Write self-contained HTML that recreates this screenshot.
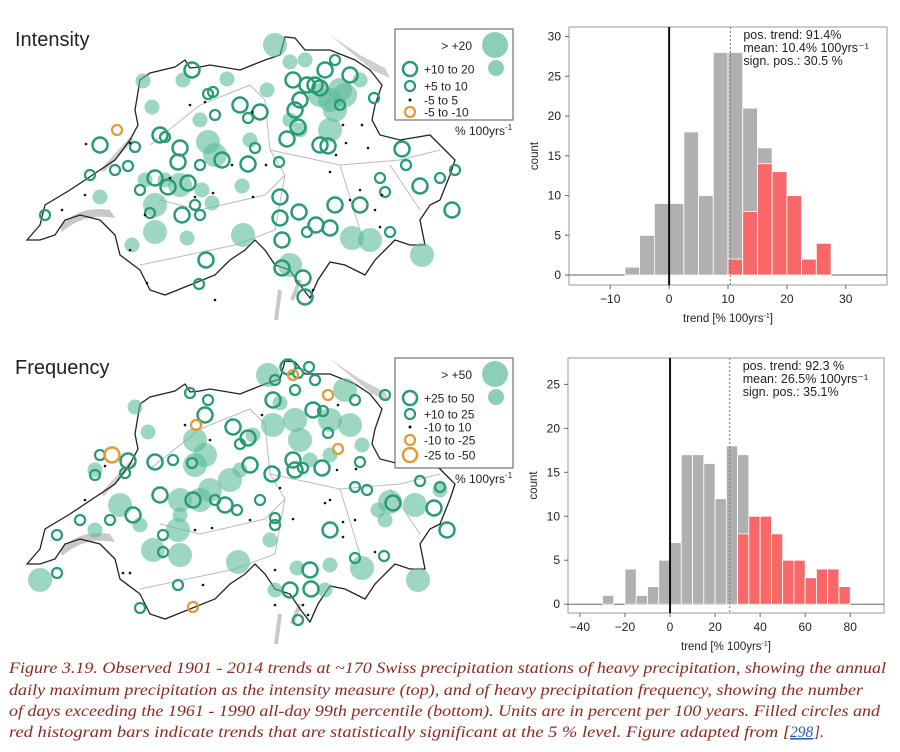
<!DOCTYPE html>
<html><head><meta charset="utf-8"><style>
body{margin:0;background:#fff;width:900px;height:752px;overflow:hidden}
svg{display:block}
text{font-family:"Liberation Sans",Arial,sans-serif;fill:#222}
.cap{font-family:"Liberation Serif",serif;font-style:italic;fill:#8a2a20;font-size:15.5px}
</style></head><body>
<svg id="fig" width="900" height="752" viewBox="0 0 900 752" xmlns="http://www.w3.org/2000/svg">
<g id="maps"></g>
<g id="hist1"></g>
<g id="hist2"></g>
<g>
<text class="cap" x="9" y="673" textLength="877" lengthAdjust="spacingAndGlyphs">Figure 3.19. Observed 1901 - 2014 trends at ~170 Swiss precipitation stations of heavy precipitation, showing the annual</text>
<text class="cap" x="9" y="695" textLength="854" lengthAdjust="spacingAndGlyphs">daily maximum precipitation as the intensity measure (top), and of heavy precipitation frequency, showing the number</text>
<text class="cap" x="9" y="716" textLength="871" lengthAdjust="spacingAndGlyphs">of days exceeding the 1961 - 1990 all-day 99th percentile (bottom). Units are in percent per 100 years. Filled circles and</text>
<text class="cap" x="9" y="737" textLength="781" lengthAdjust="spacingAndGlyphs">red histogram bars indicate trends that are statistically significant at the 5 % level. Figure adapted from [</text>
<text class="cap" x="790" y="737" style="fill:#2a5db0;text-decoration:underline">298</text>
<text class="cap" x="814" y="737">].</text>
</g>
</svg>
<script>
// ---------- histogram data ----------
const intBinStart = [-7.5,-5,-2.5,0,2.5,5,7.5,10,12.5,15,17.5,20,22.5,25];
const intTotal    = [1,5,9,9,18,10,28,28,21,16,13,10,2,4];
const intSig      = [0,0,0,0,0,0,0,2,8,14,13,10,2,4];
const intXTicks = [-10,0,10,20,30];
const intYTicks = [0,5,10,15,20,25,30];
const intMean = 10.4;
const intStats = ["pos. trend: 91.4%","mean: 10.4% 100yrs\u207B\u00B9","sign. pos.: 30.5 %"];

const freqBinStart = [-30,-25,-20,-15,-10,-5,0,5,10,15,20,25,30,35,40,45,50,55,60,65,70,75];
const freqTotal    = [1,0,4,1,2,5,7,17,17,16,12,18,17,10,10,8,5,5,3,4,4,2];
const freqSig      = [0,0,0,0,0,0,0,0,0,0,0,0,8,10,10,8,5,5,3,4,4,2];
const freqXTicks = [-40,-20,0,20,40,60,80];
const freqYTicks = [0,5,10,15,20,25];
const freqMean = 26.5;
const freqStats = ["pos. trend: 92.3 %","mean: 26.5% 100yrs\u207B\u00B9","sign. pos.: 35.1%"];

// ---------- map station data [x, y, class] ----------
// classes: B big filled, S small filled, O open large, o open small, d dot, r orange small, R orange large
const intStations = [
[275,45,'B'],[155,232,'B'],[243,235,'B'],[352,238,'B'],[370,240,'B'],[422,255,'B'],[290,265,'B'],[340,90,'B'],[330,100,'B'],[208,142,'B'],[215,155,'B'],[155,205,'B'],[180,185,'B'],[335,110,'B'],[320,95,'B'],[345,95,'B'],[330,130,'B'],
[143,81,'S'],[152,107,'S'],[183,80,'S'],[227,79,'S'],[267,90,'S'],[300,130,'S'],[145,180,'S'],[165,180,'S'],[202,190,'S'],[242,186,'S'],[100,197,'S'],[212,203,'S'],[132,245,'S'],[187,238,'S'],[290,120,'S'],[360,80,'S'],[290,62,'S'],[305,60,'S'],[200,120,'S'],[250,140,'S'],
[192,70,'O'],[240,105,'O'],[260,112,'O'],[160,135,'O'],[100,145,'O'],[180,148,'O'],[178,162,'O'],[155,178,'O'],[222,160,'O'],[248,164,'O'],[188,183,'O'],[298,127,'O'],[287,139,'O'],[320,145,'O'],[328,146,'O'],[300,100,'O'],[315,85,'O'],[325,70,'O'],[350,75,'O'],[320,88,'O'],[293,80,'O'],[307,85,'O'],[295,110,'O'],[168,187,'O'],[182,215,'O'],[206,260,'O'],[280,218,'O'],[282,240,'O'],[299,212,'O'],[335,205,'O'],[360,205,'O'],[402,149,'O'],[420,186,'O'],[316,225,'O'],[330,228,'O'],[282,268,'O'],[303,278,'O'],[305,297,'O'],[452,210,'O'],[280,197,'O'],
[208,94,'o'],[213,92,'o'],[215,115,'o'],[248,118,'o'],[135,147,'o'],[165,137,'o'],[128,166,'o'],[90,175,'o'],[200,165,'o'],[279,162,'o'],[255,148,'o'],[374,98,'o'],[200,215,'o'],[195,205,'o'],[140,190,'o'],[45,215,'o'],[115,170,'o'],[150,213,'o'],[199,284,'o'],[380,178,'o'],[440,178,'o'],[455,170,'o'],[406,165,'o'],[385,192,'o'],[307,232,'o'],[390,232,'o'],[335,60,'o'],[340,105,'o'],
[117,130,'r'],
[190,105,'d'],[205,102,'d'],[86,144,'d'],[130,143,'d'],[252,112,'d'],[85,195,'d'],[62,210,'d'],[145,215,'d'],[195,197,'d'],[170,178,'d'],[213,193,'d'],[232,165,'d'],[266,165,'d'],[253,197,'d'],[330,172,'d'],[336,155,'d'],[343,125,'d'],[350,200,'d'],[360,190,'d'],[382,195,'d'],[375,210,'d'],[368,148,'d'],[362,125,'d'],[346,143,'d'],[147,283,'d'],[130,250,'d'],[313,290,'d'],[380,227,'d'],[215,300,'d']
];
const freqStations = [
[268,375,'B'],[40,580,'B'],[153,550,'B'],[180,555,'B'],[178,530,'B'],[238,562,'B'],[362,568,'B'],[418,580,'B'],[390,502,'B'],[415,505,'B'],[345,390,'B'],[350,425,'B'],[330,420,'B'],[295,420,'B'],[273,425,'B'],[300,440,'B'],[210,490,'B'],[230,480,'B'],[195,465,'B'],[200,500,'B'],[120,505,'B'],[195,440,'B'],[205,455,'B'],[180,500,'B'],
[135,407,'S'],[148,432,'S'],[253,435,'S'],[180,515,'S'],[140,525,'S'],[270,540,'S'],[330,565,'S'],[325,590,'S'],[95,530,'S'],[310,460,'S'],[440,490,'S'],[275,590,'S'],[297,568,'S'],[378,510,'S'],[95,470,'S'],[330,455,'S'],[362,445,'S'],[385,520,'S'],[280,403,'S'],[240,470,'S'],
[205,415,'O'],[233,427,'O'],[248,438,'O'],[155,462,'O'],[128,461,'O'],[160,495,'O'],[133,515,'O'],[193,500,'O'],[225,505,'O'],[250,465,'O'],[272,474,'O'],[293,460,'O'],[288,367,'O'],[273,400,'O'],[313,410,'O'],[295,470,'O'],[330,530,'O'],[311,589,'O'],[310,570,'O'],[290,590,'O'],[393,503,'O'],[447,530,'O'],[434,508,'O'],[322,468,'O'],
[190,393,'o'],[208,400,'o'],[240,444,'o'],[173,460,'o'],[125,473,'o'],[100,455,'o'],[95,475,'o'],[80,520,'o'],[57,535,'o'],[57,573,'o'],[110,520,'o'],[163,535,'o'],[163,552,'o'],[178,585,'o'],[215,500,'o'],[237,510,'o'],[260,500,'o'],[275,518,'o'],[275,525,'o'],[303,468,'o'],[298,373,'o'],[309,367,'o'],[315,380,'o'],[275,380,'o'],[295,390,'o'],[323,411,'o'],[328,433,'o'],[355,400,'o'],[360,462,'o'],[355,558,'o'],[367,490,'o'],[355,487,'o'],[385,395,'o'],[420,481,'o'],[440,487,'o'],[384,556,'o'],[140,608,'o'],[298,620,'o'],[192,463,'o'],
[112,455,'R'],[196,425,'r'],[328,395,'r'],[338,449,'r'],[293,375,'r'],[193,607,'r'],
[185,425,'d'],[210,440,'d'],[105,466,'d'],[85,500,'d'],[195,530,'d'],[212,528,'d'],[250,520,'d'],[262,415,'d'],[280,488,'d'],[293,519,'d'],[337,470,'d'],[330,500,'d'],[325,503,'d'],[343,522,'d'],[355,520,'d'],[343,537,'d'],[375,552,'d'],[356,469,'d'],[338,405,'d'],[123,573,'d'],[130,573,'d'],[203,585,'d'],[275,570,'d'],[275,605,'d'],[303,605,'d'],[308,615,'d']
];

const NS='http://www.w3.org/2000/svg';
function mk(tag, attrs, parent){const e=document.createElementNS(NS,tag);for(const k in attrs)e.setAttribute(k,attrs[k]);parent.appendChild(e);return e;}

// ---------- maps ----------
const outline=[[27,240],[40,225],[45,205],[70,190],[100,170],[115,160],[130,140],[138,125],[135,110],[140,80],[150,73],[175,67],[185,60],[190,68],[200,67],[210,65],[240,70],[265,60],[280,55],[285,37],[295,38],[305,50],[330,50],[355,60],[370,70],[382,85],[375,105],[372,120],[380,135],[400,140],[430,135],[445,150],[455,160],[450,175],[440,200],[430,205],[420,220],[425,245],[410,245],[395,240],[385,250],[375,260],[365,275],[345,265],[330,262],[318,280],[310,298],[300,285],[290,270],[275,265],[265,250],[255,240],[245,250],[230,260],[215,275],[190,285],[165,295],[150,290],[140,270],[120,255],[115,235],[100,220],[80,215],[65,220],[55,235],[40,240]];
const maps=document.getElementById('maps');
function drawMap(dy, stations, name){
  const g=mk('g',{},maps);
  
  
  // lakes
  const lk=mk('path',{d:`M60,${226+dy} Q80,${205+dy} 110,${210+dy} L115,${218+dy} Q85,${212+dy} 62,${232+dy} Z`,fill:'#c8c8c8'},g);
  
  
  mk('path',{d:`M100,${170+dy} L130,${137+dy} L134,${140+dy} L104,${172+dy} Z`,fill:'#cfcfcf'},g);
  mk('path',{d:`M330,${35+dy} L360,${55+dy} L385,${68+dy} L390,${78+dy} L372,${70+dy} Z`,fill:'#cfcfcf'},g);
  mk('path',{d:`M280,${290+dy} L276,${320+dy} M300,${280+dy} L292,${300+dy}`,stroke:'#c8c8c8','stroke-width':4,fill:'none'},g);
  // internal borders
  mk('path',{d:`M150,${145+dy} L200,${105+dy} L250,${85+dy} L265,${100+dy} L270,${150+dy} L285,${175+dy} L265,${195+dy} L200,${210+dy} L160,${200+dy} M270,${150+dy} L340,${165+dy} L400,${160+dy} L440,${150+dy} M285,${175+dy} L275,${230+dy} L235,${245+dy} L140,${265+dy} M340,${165+dy} L360,${230+dy} M390,${165+dy} L420,${210+dy}`,stroke:'#bbb','stroke-width':1,fill:'none'},g);
  const p=mk('path',{d:'M'+outline.map(q=>q[0]+','+(q[1]+dy)).join(' L')+' Z',fill:'none',stroke:'#222','stroke-width':1.3},g);
  
  
  stations.forEach(s=>{
    const [x,y,c]=s; let a;
    if(c==='B') a={r:12,fill:'#5cbb97','fill-opacity':0.6};
    else if(c==='S') a={r:7.5,fill:'#5cbb97','fill-opacity':0.6};
    else if(c==='O') a={r:7.5,fill:'none',stroke:'#2a9a72','stroke-width':2.5};
    else if(c==='o') a={r:5,fill:'none',stroke:'#2a9a72','stroke-width':2.2};
    else if(c==='r') a={r:5,fill:'none',stroke:'#e09a3a','stroke-width':2.2};
    else if(c==='R') a={r:7.5,fill:'none',stroke:'#e09a3a','stroke-width':2.5};
    else a={r:1.3,fill:'#111'};
    a.cx=x;a.cy=y;
    const e=mk('circle',a,g);
    
    
  });
}
drawMap(0,intStations,'intensity-map');
drawMap(324,freqStations,'frequency-map');

function legend(y0,h,items,bigLabel,name){
  const g=mk('g',{},maps);
  
  
  mk('rect',{x:395,y:y0,width:118,height:h,fill:'#fff',stroke:'#555','stroke-width':1},g);
  mk('circle',{cx:495,cy:y0+16,r:13,fill:'#5cbb97','fill-opacity':0.7},g);
  const t=mk('text',{x:472,y:y0+21,'font-size':12,'text-anchor':'end'},g); t.textContent=bigLabel;
  mk('circle',{cx:496,cy:y0+39,r:8,fill:'#5cbb97','fill-opacity':0.7},g);
  items.forEach(it=>{
    const [dy,c,lab]=it;
    let a={cx:410,cy:y0+dy};
    if(c==='O')Object.assign(a,{r:7,fill:'none',stroke:'#2a9a72','stroke-width':2.5});
    else if(c==='o')Object.assign(a,{r:5,fill:'none',stroke:'#2a9a72','stroke-width':2.2});
    else if(c==='r')Object.assign(a,{r:5,fill:'none',stroke:'#e09a3a','stroke-width':2.2});
    else if(c==='R')Object.assign(a,{r:7,fill:'none',stroke:'#e09a3a','stroke-width':2.5});
    else Object.assign(a,{r:1.5,fill:'#111'});
    mk('circle',a,g);
    const tt=mk('text',{x:424,y:y0+dy+4.5,'font-size':12},g); tt.textContent=lab;
  });
  const u=mk('text',{x:455,y:y0+h+15,'font-size':12},g); u.innerHTML='% 100yrs<tspan dy="-5" font-size="8">-1</tspan>';
}
legend(29,91,[[40,'O','+10 to 20'],[57,'o','+5 to 10'],[71,'d','-5 to 5'],[83,'r','-5 to -10']],'> +20','intensity-legend');
legend(358,110,[[40,'O','+25 to 50'],[56,'o','+10 to 25'],[69,'d','-10 to 10'],[82,'r','-10 to -25'],[97,'R','-25 to -50']],'> +50','frequency-legend');

const tI=mk('text',{x:15,y:46,'font-size':20},maps); tI.textContent='Intensity';
 
const tF=mk('text',{x:15,y:374,'font-size':20},maps); tF.textContent='Frequency';
 

// ---------- histograms ----------
function hist(id,cfg){
  const g=document.getElementById(id);
  const {bx0,bx1,by0,by1,xmin,xmax,ymin,ymax,width,starts,tot,sig,xt,yt,mean,stats}=cfg;
  const X=v=>bx0+(v-xmin)/(xmax-xmin)*(bx1-bx0);
  const Y=v=>by1-(v-ymin)/(ymax-ymin)*(by1-by0);
  mk('rect',{x:bx0,y:by0,width:bx1-bx0,height:by1-by0,fill:'none',stroke:'#999','stroke-width':1},g);
  mk('line',{x1:bx0,x2:bx1,y1:Y(0),y2:Y(0),stroke:'#666','stroke-width':1},g);
  starts.forEach((s,i)=>{
    if(tot[i]>0){const r=mk('rect',{x:X(s),y:Y(tot[i]),width:X(s+width)-X(s),height:Y(0)-Y(tot[i]),fill:'#b0b0b0',stroke:'#fff','stroke-width':0.8},g);
       }
    if(sig[i]>0){const r=mk('rect',{x:X(s),y:Y(sig[i]),width:X(s+width)-X(s),height:Y(0)-Y(sig[i]),fill:'#f86868',stroke:'#fff','stroke-width':0.8},g);
       }
  });
  mk('line',{x1:X(0),x2:X(0),y1:by0,y2:by1,stroke:'#111','stroke-width':2},g);
  mk('line',{x1:X(mean),x2:X(mean),y1:by0,y2:by1,stroke:'#777','stroke-width':1,'stroke-dasharray':'2,2'},g);
  xt.forEach(v=>{mk('line',{x1:X(v),x2:X(v),y1:by1,y2:by1+4,stroke:'#666'},g);
    const t=mk('text',{x:X(v),y:by1+18,'font-size':12,'text-anchor':'middle',fill:'#333'},g);t.textContent=(v<0?'\u2212'+(-v):v);});
  yt.forEach(v=>{mk('line',{x1:bx0-4,x2:bx0,y1:Y(v),y2:Y(v),stroke:'#666'},g);
    const t=mk('text',{x:bx0-8,y:Y(v)+4,'font-size':12,'text-anchor':'end',fill:'#333'},g);t.textContent=v;});
  stats.forEach((s,i)=>{const t=mk('text',{x:X(mean)+13,y:by0+12+i*13,'font-size':12.5},g);t.textContent=s;});
  const xl=mk('text',{x:(bx0+bx1)/2,y:by1+37,'font-size':11.5,'text-anchor':'middle'},g);
  xl.innerHTML='trend [% 100yrs<tspan dy="-4" font-size="7">-1</tspan><tspan dy="4">]</tspan>';
  const yl=mk('text',{x:0,y:0,'font-size':11.5,'text-anchor':'middle',transform:`translate(${bx0-31},${(by0+by1)/2}) rotate(-90)`},g);yl.textContent='count';
}
hist('hist1',{bx0:569,bx1:887,by0:27,by1:285,xmin:-17,xmax:37,ymin:-1.25,ymax:31.2,width:2.5,starts:intBinStart,tot:intTotal,sig:intSig,xt:intXTicks,yt:intYTicks,mean:intMean,stats:intStats});
hist('hist2',{bx0:568,bx1:884,by0:358,by1:613,xmin:-45.3,xmax:95,ymin:-1,ymax:28,width:5,starts:freqBinStart,tot:freqTotal,sig:freqSig,xt:freqXTicks,yt:freqYTicks,mean:freqMean,stats:freqStats});
</script>
</body></html>
